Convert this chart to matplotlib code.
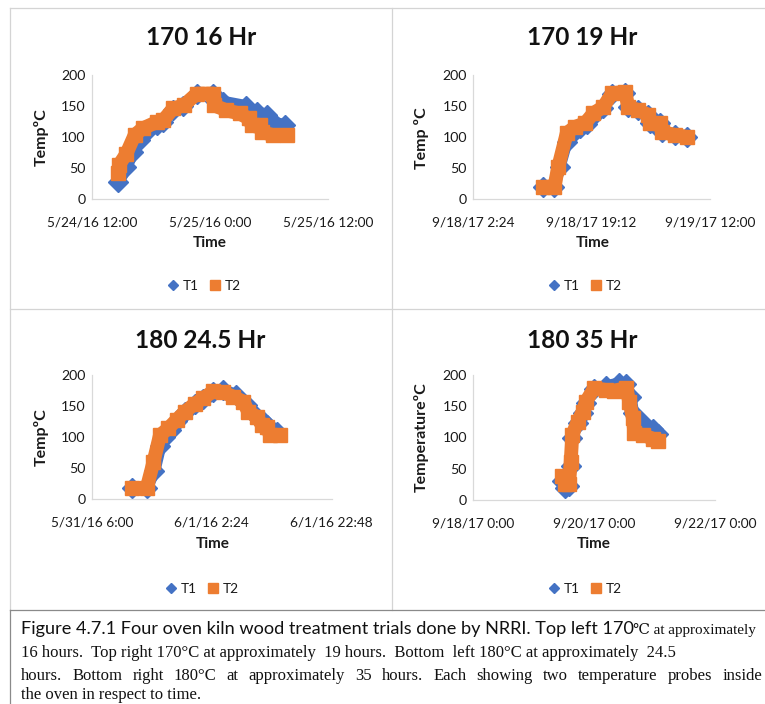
import matplotlib
matplotlib.use("Agg")
import matplotlib.pyplot as plt
import matplotlib.dates as mdates
from matplotlib.lines import Line2D
from matplotlib.ticker import FuncFormatter
import pandas as pd

W, H = 765, 704
plt.rcParams['font.family'] = ['Lato', 'DejaVu Sans']
SANS = ['Lato', 'DejaVu Sans']
SERIF = ['Liberation Serif', 'DejaVu Serif']

BLUE = '#4472C4'
ORANGE = '#ED7D31'

# ---------------- data ----------------
titles = ["170 16 Hr", "170 19 Hr", "180 24.5 Hr", "180 35 Hr"]
ylabels = ["TempºC", "Temp ºC", "TempºC", "TemperatureºC"]
xlabel = "Time"
series_names = ["T1", "T2"]

p1_ticks = ["2016-05-24 12:00", "2016-05-25 00:00", "2016-05-25 12:00"]
p2_ticks = ["2017-09-18 02:24", "2017-09-18 19:12", "2017-09-19 12:00"]
p3_ticks = ["2016-05-31 06:00", "2016-06-01 02:24", "2016-06-01 22:48"]
p4_ticks = ["2017-09-18 00:00", "2017-09-20 00:00", "2017-09-22 00:00"]
y_ticks = [0, 50, 100, 150, 200]

p1_t1_time = ["2016-05-24 14:41", "2016-05-24 15:30", "2016-05-24 16:12", "2016-05-24 16:54",
              "2016-05-24 17:30", "2016-05-24 18:36", "2016-05-24 19:15", "2016-05-24 20:16",
              "2016-05-24 21:18", "2016-05-24 22:39", "2016-05-25 00:18", "2016-05-25 00:30",
              "2016-05-25 01:21", "2016-05-25 03:42", "2016-05-25 04:00", "2016-05-25 04:45",
              "2016-05-25 05:48", "2016-05-25 06:00", "2016-05-25 06:27", "2016-05-25 07:36"]
p1_t1_temp = [27, 51, 76, 95, 108, 120, 125, 143, 150, 170, 170, 158, 157, 150, 142, 141,
              135, 125, 124, 119]
p1_t2_time = ["2016-05-24 14:40", "2016-05-24 14:45", "2016-05-24 15:30", "2016-05-24 16:20",
              "2016-05-24 17:10", "2016-05-24 18:35", "2016-05-24 19:15", "2016-05-24 20:15",
              "2016-05-24 21:20", "2016-05-24 22:40", "2016-05-25 00:20", "2016-05-25 00:25",
              "2016-05-25 01:40", "2016-05-25 03:00", "2016-05-25 03:55", "2016-05-25 04:15",
              "2016-05-25 05:05", "2016-05-25 05:15", "2016-05-25 06:25", "2016-05-25 07:50"]
p1_t2_temp = [42, 55, 73, 103, 114, 124, 127, 146, 151, 170, 170, 151, 143, 138, 130, 119,
              119, 108, 103, 103]

p2_t1_time = ["2017-09-18 12:20", "2017-09-18 13:54", "2017-09-18 14:40", "2017-09-18 15:40",
              "2017-09-18 16:30", "2017-09-18 17:30", "2017-09-18 18:30", "2017-09-18 19:27",
              "2017-09-18 20:52", "2017-09-18 22:06", "2017-09-18 23:57", "2017-09-19 00:24",
              "2017-09-19 01:50", "2017-09-19 03:16", "2017-09-19 03:30", "2017-09-19 04:54",
              "2017-09-19 05:10", "2017-09-19 07:03", "2017-09-19 08:42"]
p2_t1_temp = [20, 20, 52, 92, 106, 114, 120, 133, 146, 168, 171, 148, 143, 135, 122, 122,
              108, 103, 100]
p2_t2_time = ["2017-09-18 12:20", "2017-09-18 13:54", "2017-09-18 14:28", "2017-09-18 15:40",
              "2017-09-18 16:51", "2017-09-18 18:16", "2017-09-18 19:27", "2017-09-18 20:52",
              "2017-09-18 22:06", "2017-09-18 23:57", "2017-09-19 00:24", "2017-09-19 01:50",
              "2017-09-19 03:16", "2017-09-19 03:30", "2017-09-19 04:54", "2017-09-19 05:10",
              "2017-09-19 07:03", "2017-09-19 08:42"]
p2_t2_temp = [20, 20, 52, 106, 116, 122, 138, 148, 170, 172, 148, 143, 135, 122, 122, 108,
              103, 100]

p3_t1_time = ["2016-05-31 12:48", "2016-05-31 15:21", "2016-05-31 16:40", "2016-05-31 17:40",
              "2016-05-31 18:30", "2016-05-31 19:30", "2016-05-31 20:27", "2016-05-31 21:52",
              "2016-05-31 23:34", "2016-06-01 01:00", "2016-06-01 02:42", "2016-06-01 04:24",
              "2016-06-01 06:30", "2016-06-01 08:24", "2016-06-01 09:45", "2016-06-01 10:54",
              "2016-06-01 11:48", "2016-06-01 13:30"]
p3_t1_temp = [18, 18, 45, 85, 100, 112, 126, 140, 153, 162, 172, 176, 168, 152, 136, 128,
              120, 108]
p3_t2_time = ["2016-05-31 12:48", "2016-05-31 15:21", "2016-05-31 16:30", "2016-05-31 17:36",
              "2016-05-31 19:00", "2016-05-31 20:27", "2016-05-31 21:52", "2016-05-31 23:34",
              "2016-06-01 01:00", "2016-06-01 02:42", "2016-06-01 04:24", "2016-06-01 06:06",
              "2016-06-01 07:48", "2016-06-01 08:36", "2016-06-01 10:03", "2016-06-01 10:54",
              "2016-06-01 11:48", "2016-06-01 12:18", "2016-06-01 14:00"]
p3_t2_temp = [18, 18, 60, 103, 114, 128, 141, 154, 163, 174, 172, 165, 157, 141, 133, 120,
              117, 103, 103]

p4_t1_time = ["2017-09-19 11:24", "2017-09-19 12:30", "2017-09-19 14:00", "2017-09-19 14:42",
              "2017-09-19 15:18", "2017-09-19 17:24", "2017-09-19 19:24", "2017-09-19 20:42",
              "2017-09-20 00:00", "2017-09-20 04:42", "2017-09-20 10:00", "2017-09-20 12:42",
              "2017-09-20 14:30", "2017-09-20 15:30", "2017-09-20 17:00", "2017-09-20 19:30",
              "2017-09-20 23:24", "2017-09-21 01:24"]
p4_t1_temp = [30, 20, 22, 55, 100, 123, 140, 156, 178, 182, 187, 185, 165, 140, 130, 124,
              113, 105]
p4_t2_time = ["2017-09-19 11:24", "2017-09-19 12:30", "2017-09-19 14:00", "2017-09-19 14:42",
              "2017-09-19 15:18", "2017-09-19 17:24", "2017-09-19 19:24", "2017-09-19 20:42",
              "2017-09-20 00:00", "2017-09-20 04:42", "2017-09-20 08:00", "2017-09-20 12:42",
              "2017-09-20 14:00", "2017-09-20 15:24", "2017-09-20 16:00", "2017-09-20 19:24",
              "2017-09-20 23:24", "2017-09-21 01:24"]
p4_t2_temp = [38, 25, 25, 61, 104, 125, 141, 157, 179, 176, 175, 179, 157, 131, 107, 104,
              98, 95]

caption_l1a = "Figure 4.7.1 Four oven kiln wood treatment trials done by NRRI. Top left 170"
caption_l1b = "℃ at approximately"
caption_l2 = "16 hours.  Top right 170°C at approximately  19 hours.  Bottom  left 180°C at approximately  24.5"
caption_l3 = "hours.  Bottom right 180°C at approximately  35 hours. Each showing two temperature  probes inside"
caption_l4 = "the oven in respect to time."

panels = [
    (p1_t1_time, p1_t1_temp, p1_t2_time, p1_t2_temp, p1_ticks),
    (p2_t1_time, p2_t1_temp, p2_t2_time, p2_t2_temp, p2_ticks),
    (p3_t1_time, p3_t1_temp, p3_t2_time, p3_t2_temp, p3_ticks),
    (p4_t1_time, p4_t1_temp, p4_t2_time, p4_t2_temp, p4_ticks),
]

# ---------------- layout (pixels) ----------------
ax_boxes = [(92, 75, 328, 199), (473.3, 74.5, 710, 199.3),
            (91.7, 375, 331.7, 499.3), (473.3, 375, 715, 500)]
title_pos = [(201, 37.5), (582, 37.5), (200, 340), (582, 340)]
ylab_pos = [(41.7, 137), (421.7, 138), (41.7, 437), (421.7, 437)]
xlab_pos = [(210, 243), (593, 243), (213, 544), (594, 544)]
leg_pos = [(204, 286), (585, 286), (202, 589), (585, 589)]


def fx(x):
    return x / W


def fy(y):
    return 1 - y / H


def date_fmt(x, pos=None):
    d = pd.Timestamp(mdates.num2date(x)).round('min')
    return f"{d.month}/{d.day}/{d.strftime('%y')} {d.hour}:{d.minute:02d}"


fig = plt.figure(figsize=(W / 100, H / 100), dpi=100)

PANEL_GRAY = '#d4d4d4'
BOX_GRAY = '#8a8a8a'


def hline(y, x0, x1, c):
    fig.add_artist(Line2D([fx(x0), fx(x1)], [fy(y), fy(y)], transform=fig.transFigure,
                          color=c, lw=0.9))


def vline(x, y0, y1, c):
    fig.add_artist(Line2D([fx(x), fx(x)], [fy(y0), fy(y1)], transform=fig.transFigure,
                          color=c, lw=0.9))


hline(8, 10, W, PANEL_GRAY)
hline(309.3, 10, W, PANEL_GRAY)
vline(10, 8, 610, PANEL_GRAY)
vline(392.3, 8, 610, PANEL_GRAY)
hline(610, 10, W, BOX_GRAY)
vline(10, 610, H, BOX_GRAY)

TXT = '#1a1a1a'
for i, (t1x, t1y, t2x, t2y, ticks) in enumerate(panels):
    l, t, r, b = ax_boxes[i]
    ax = fig.add_axes([fx(l), fy(b), fx(r) - fx(l), (b - t) / H])
    tick_nums = [mdates.date2num(pd.Timestamp(s)) for s in ticks]
    ax.plot(pd.to_datetime(t1x), t1y, color=BLUE, lw=8.5, marker='D', ms=10.5,
            solid_capstyle='butt', solid_joinstyle='round', zorder=2, clip_on=False)
    ax.plot(pd.to_datetime(t2x), t2y, color=ORANGE, lw=10, marker='s', ms=10,
            solid_capstyle='butt', solid_joinstyle='round', zorder=3, clip_on=False)
    ax.set_xlim(tick_nums[0], tick_nums[-1])
    ax.set_xticks(tick_nums)
    ax.xaxis.set_major_formatter(FuncFormatter(date_fmt))
    ax.set_ylim(0, 200)
    ax.set_yticks(y_ticks)
    for s in ['top', 'right']:
        ax.spines[s].set_visible(False)
    for s in ['left', 'bottom']:
        ax.spines[s].set_color('#d9d9d9')
        ax.spines[s].set_linewidth(0.9)
    ax.tick_params(axis='x', length=0, pad=12.5, labelsize=9.8, colors=TXT)
    ax.tick_params(axis='y', length=0, pad=4.5, labelsize=10.2, colors=TXT)
    ax.patch.set_alpha(0)

    ax.set_ylabel(ylabels[i], fontsize=11.5, fontweight='bold', color=TXT)
    ax.yaxis.set_label_coords(fx(ylab_pos[i][0]), fy(ylab_pos[i][1]), transform=fig.transFigure)
    ax.set_xlabel(xlabel, fontsize=11, fontweight='bold', color=TXT)
    ax.xaxis.set_label_coords(fx(xlab_pos[i][0]), fy(xlab_pos[i][1]), transform=fig.transFigure)
    ax.xaxis.label.set_va('center')
    ax.yaxis.label.set_va('center')

    fig.text(fx(title_pos[i][0]), fy(title_pos[i][1]), titles[i], ha='center', va='center',
             fontsize=17.6, fontweight='bold', color='#111111')

    handles = [Line2D([], [], ls='none', marker='D', ms=5, color=BLUE),
               Line2D([], [], ls='none', marker='s', ms=7.5, color=ORANGE)]
    fig.legend(handles, series_names, loc='center',
               bbox_to_anchor=(fx(leg_pos[i][0]), fy(leg_pos[i][1])), ncol=2, frameon=False,
               fontsize=9.8, handlelength=0.9, handletextpad=0.3, columnspacing=0.7,
               borderpad=0, labelcolor=TXT)

# ---------------- caption ----------------
renderer = fig.canvas.get_renderer()


def width_of(txt):
    return txt.get_window_extent(renderer).width


def fit(txt, target):
    txt.set_fontsize(txt.get_fontsize() * target / width_of(txt))


CAP_COL = '#111111'
c1a = fig.text(fx(21), fy(634), caption_l1a, family=SANS, fontsize=13, va='baseline',
               color=CAP_COL)
fit(c1a, 610)
c1b = fig.text(fx(633), fy(634), caption_l1b, family=SERIF, fontsize=12, va='baseline',
               color=CAP_COL)
fit(c1b, 123)

c2 = fig.text(fx(21), fy(657), caption_l2, family=SERIF, fontsize=12, va='baseline',
              color=CAP_COL)
fit(c2, 652)
serif_size = c2.get_fontsize()

# justified third line
words = caption_l3.split()
tmp = [fig.text(0, 0, w_, family=SERIF, fontsize=serif_size) for w_ in words]
widths = [width_of(t_) for t_ in tmp]
for t_ in tmp:
    t_.remove()
gap = (762 - 21 - sum(widths)) / (len(words) - 1)
xcur = 21
for w_, wd in zip(words, widths):
    fig.text(fx(xcur), fy(680), w_, family=SERIF, fontsize=serif_size, va='baseline',
             color=CAP_COL)
    xcur += wd + gap

fig.text(fx(21), fy(699), caption_l4, family=SERIF, fontsize=serif_size, va='baseline',
         color=CAP_COL)

fig.savefig("out.png", dpi=100)
